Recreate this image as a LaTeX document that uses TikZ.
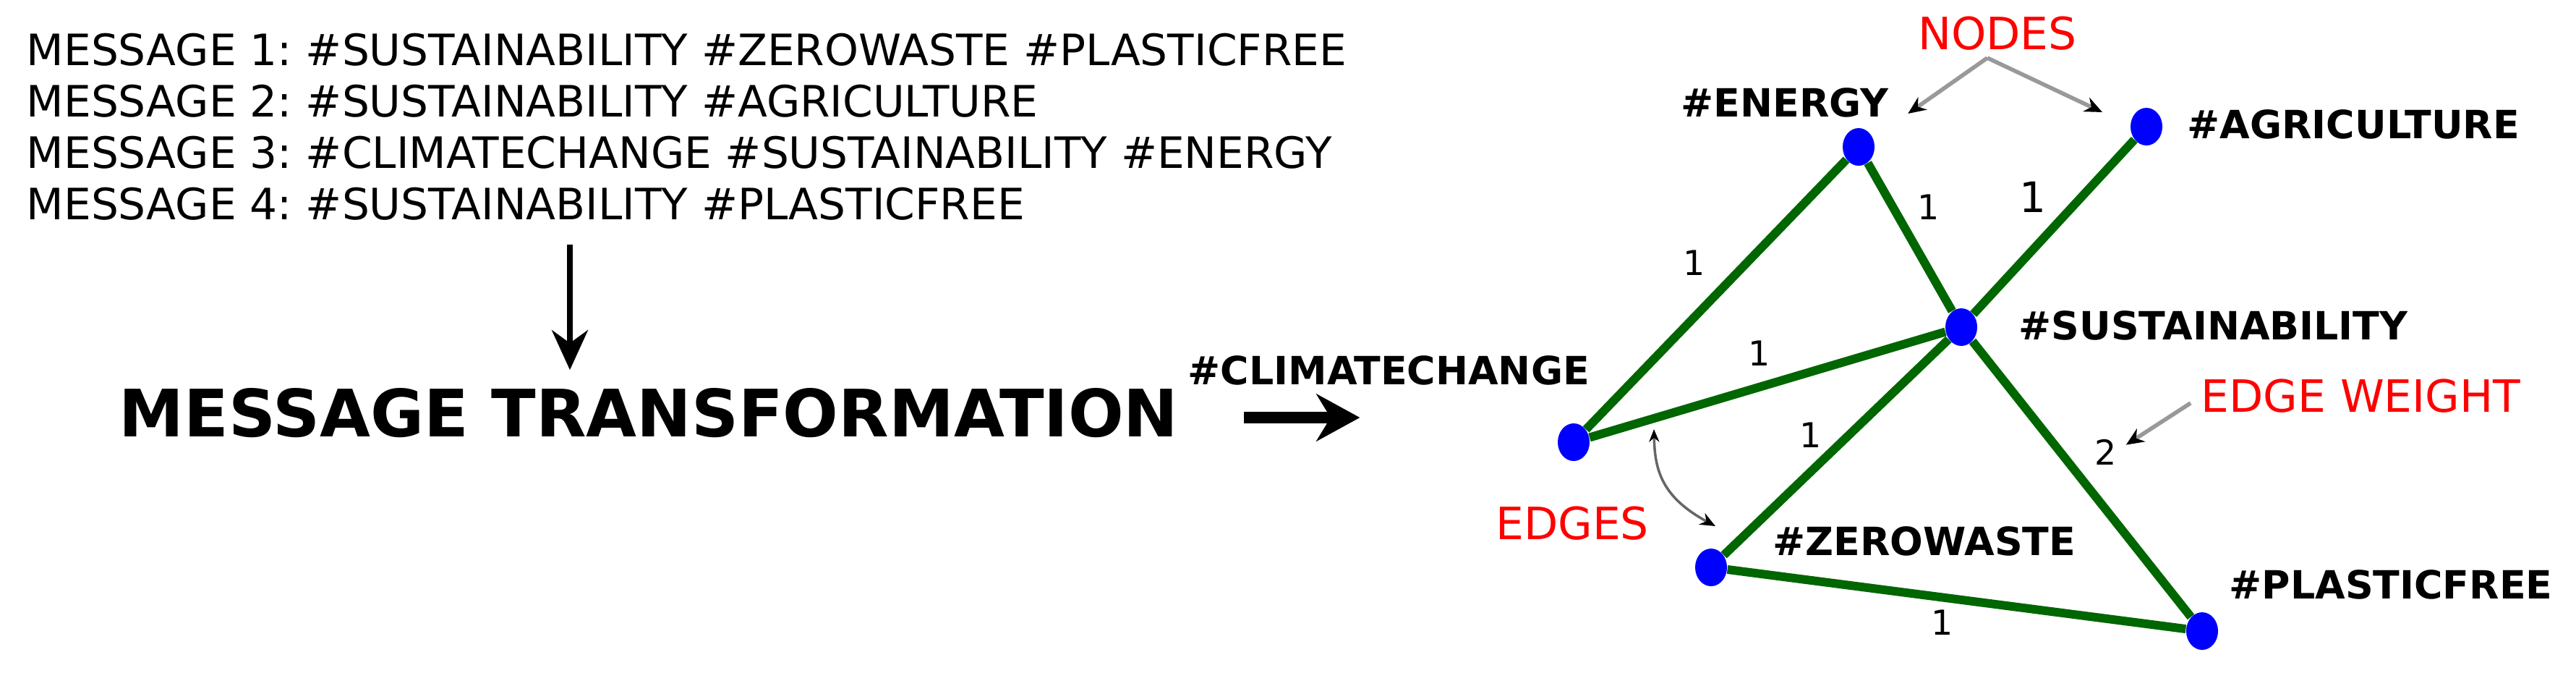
\documentclass[tikz,border=0pt]{standalone}
\usepackage{fontspec}
\setmainfont{DejaVu Sans}
\usetikzlibrary{calc}
\usetikzlibrary{arrows.meta}
\usetikzlibrary{shapes.geometric}
\frenchspacing

\tikzset{
  msg/.style={anchor=west, inner sep=0pt, font=\fontsize{17}{20}\selectfont},
  tag/.style={anchor=west, inner sep=0pt, font=\fontsize{15.3}{18}\selectfont\bfseries},
  dot/.style={ellipse, fill=blue, inner sep=0pt, minimum width=0.44cm, minimum height=0.52cm},
  link/.style={green!40!black, line width=3.4pt},
  wt/.style={inner sep=0pt, font=\fontsize{13.5}{16}\selectfont},
  note/.style={red, inner sep=0pt, font=\fontsize{17.5}{20}\selectfont},
  pointer/.style={black!40, line width=1.6pt, -{Stealth[black, length=7pt, width=6pt]}},
}

\begin{document}
\begin{tikzpicture}[x=1cm,y=-1cm]
\useasboundingbox (0,0) rectangle (35.62,9.40);

% the four messages
\node[msg] (msg1) at (0.36,0.69) {MESSAGE 1: \#SUSTAINABILITY \#ZEROWASTE \#PLASTICFREE};
\node[msg] (msg2) at (0.36,1.40) {MESSAGE 2: \#SUSTAINABILITY \#AGRICULTURE};
\node[msg] (msg3) at (0.36,2.11) {MESSAGE 3: \#CLIMATECHANGE \#SUSTAINABILITY \#ENERGY};
\node[msg] (msg4) at (0.36,2.82) {MESSAGE 4: \#SUSTAINABILITY \#PLASTICFREE};

\node[anchor=west, inner sep=0pt, font=\fontsize{25.7}{30}\selectfont\bfseries] (title) at (1.64,5.71) {MESSAGE TRANSFORMATION};

\coordinate (down) at (7.88,3.38);
\draw[line width=2pt, -{Stealth[length=0.55cm,width=0.5cm]}, shorten >=0.25cm] (down) -- (down |- title.north);
\draw[line width=4.5pt, -{Stealth[length=0.6cm,width=0.65cm]}] ([xshift=0.9cm,yshift=-0.06cm]title.east) -- ([xshift=2.5cm,yshift=-0.06cm]title.east);

% graph
\node[dot] (E) at (25.70,2.03) {};
\node[dot] (A) at (29.68,1.75) {};
\node[dot] (S) at (27.12,4.52) {};
\node[dot] (C) at (21.76,6.11) {};
\node[dot] (Z) at (23.66,7.84) {};
\node[dot] (P) at (30.45,8.72) {};

\foreach \a/\b in {C/E,E/S,A/S,C/S,S/Z,S/P,Z/P}
  \draw[link] (\a) -- (\b);

\node[wt] (w1) at (23.43,3.63) {1};
\node[wt] (w2) at (26.67,2.86) {1};
\node[wt, font=\fontsize{16.5}{20}\selectfont] (w3) at (28.11,2.72) {1};
\node[wt] (w4) at (24.33,4.88) {1};
\node[wt] (w5) at (25.04,6.01) {1};
\node[wt] (w6) at (29.12,6.25) {2};
\node[wt] (w7) at (26.86,8.60) {1};

\node[tag] (energy) at (23.24,1.42) {\#ENERGY};
\node[tag] (agri) at (30.24,1.72) {\#AGRICULTURE};
\node[tag] (sust) at (27.91,4.50) {\#SUSTAINABILITY};
\node[tag] (climate) at (16.42,5.12) {\#CLIMATECHANGE};
\node[tag] (zero) at (24.51,7.48) {\#ZEROWASTE};
\node[tag] (plastic) at (30.82,8.08) {\#PLASTICFREE};

% red notes
\node[note] (nodes) at (27.62,0.46) {NODES};
\node[note, anchor=west] (weight) at (30.43,5.47) {EDGE WEIGHT};
\node[note] (edges) at (21.74,7.23) {EDGES};

\coordinate (apex) at (27.48,0.80);
\draw[pointer] (apex) -- ($(energy.east)+(0.26,0.15)$);
\draw[pointer] (apex) -- ($(A)+(-0.61,-0.20)$);
\draw[pointer] ($(weight.west)+(-0.14,0.10)$) -- ($(w6.north east)+(0.12,0.08)$);
\draw[black!60, line width=1pt, {Stealth[black, length=5pt, width=4pt]}-{Stealth[black, length=6pt, width=5pt]}]
  (22.87,5.93) .. controls (22.88,6.50) and (22.98,6.87) .. (23.72,7.27);

\end{tikzpicture}
\end{document}
